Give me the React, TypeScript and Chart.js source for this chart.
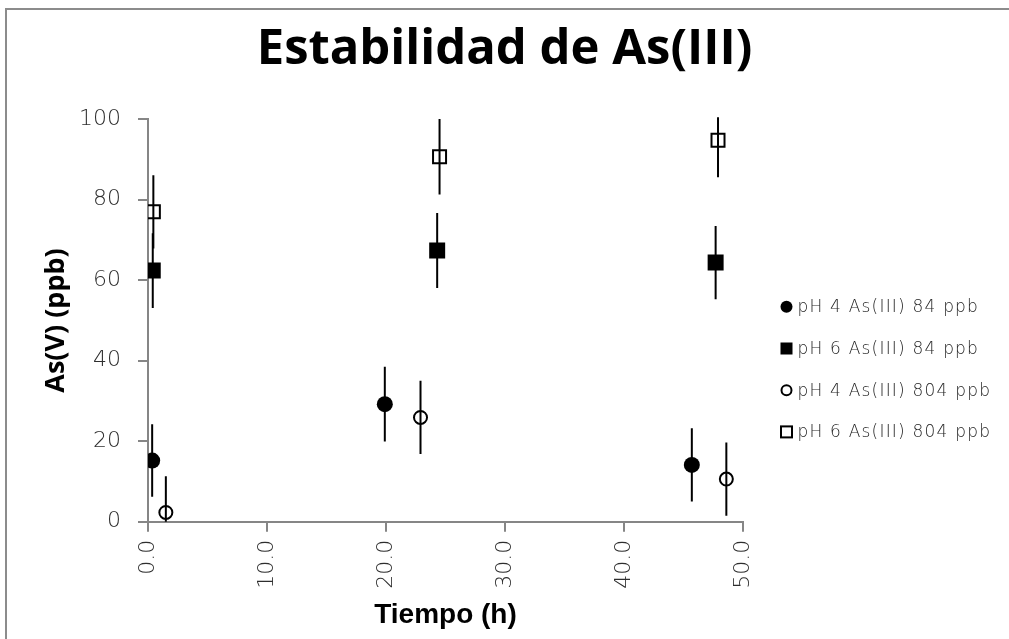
import React, { useEffect, useRef } from "react";
import { Chart, registerables } from "chart.js";

Chart.register(...registerables);

const seriesNames = [
  "pH 4 As(III) 84 ppb",
  "pH 6 As(III) 84 ppb",
  "pH 4 As(III) 804 ppb",
  "pH 6 As(III) 804 ppb",
];

// Tiempo (h)
const s1X = [0.35, 19.9, 45.7];
const s2X = [0.4, 24.3, 47.7];
const s3X = [1.5, 22.9, 48.6];
const s4X = [0.45, 24.5, 47.9];

// As(V) (ppb)
const s1Y = [15.2, 29.2, 14.1];
const s2Y = [62.4, 67.4, 64.4];
const s3Y = [2.3, 25.9, 10.6];
const s4Y = [77.0, 90.7, 94.8];

// error (±)
const s1Err = [9.0, 9.3, 9.1];
const s2Err = [9.3, 9.3, 9.1];
const s3Err = [9.0, 9.1, 9.1];
const s4Err = [9.1, 9.4, 9.2];

const xTicks = [0, 10, 20, 30, 40, 50];
const yTicks = [0, 20, 40, 60, 80, 100];

const TEXT_GREY = "#2e2e2e";
const AXIS_GREY = "#868686";
const LIGHT_FONT = "'DejaVu Sans'";

const toPoints = (xs: number[], ys: number[]) => xs.map((x, i) => ({ x, y: ys[i] }));

const errorBarPlugin = {
  id: "errorBars",
  beforeDatasetsDraw(chart: any) {
    const { ctx, chartArea, scales } = chart;
    ctx.save();
    ctx.beginPath();
    ctx.rect(chartArea.left, chartArea.top - 2, chartArea.right - chartArea.left, chartArea.bottom - chartArea.top + 2);
    ctx.clip();
    ctx.strokeStyle = "#000";
    ctx.lineWidth = 2;
    chart.data.datasets.forEach((ds: any) => {
      ds.data.forEach((p: any, i: number) => {
        const e = ds.errors[i];
        const px = scales.x.getPixelForValue(p.x);
        const top = scales.y.getPixelForValue(p.y + e);
        const bot = scales.y.getPixelForValue(p.y - e);
        ctx.beginPath();
        ctx.moveTo(px, top);
        ctx.lineTo(px, bot);
        ctx.stroke();
      });
    });
    ctx.restore();
  },
};

const legendPlugin = {
  id: "customLegend",
  afterDraw(chart: any) {
    const { ctx, chartArea } = chart;
    ctx.save();
    const mx = chartArea.right + 43.5;
    const y0 = chartArea.top + 187.5;
    const step = 41.7;
    chart.data.datasets.forEach((ds: any, i: number) => {
      const y = y0 + i * step;
      ctx.fillStyle = "#000";
      ctx.strokeStyle = "#000";
      ctx.lineWidth = 2;
      const filled = ds.pointBackgroundColor !== "rgba(0,0,0,0)";
      if (ds.pointStyle === "circle") {
        ctx.beginPath();
        ctx.arc(mx, y, filled ? 6 : 5, 0, Math.PI * 2);
        if (filled) ctx.fill();
        else ctx.stroke();
      } else {
        if (filled) ctx.fillRect(mx - 6, y - 6, 12, 12);
        else ctx.strokeRect(mx - 5.5, y - 5.5, 11, 11);
      }
      ctx.fillStyle = "#262626";
      ctx.font = `200 17px ${LIGHT_FONT}`;
      (ctx as any).letterSpacing = "1.2px";
      ctx.textAlign = "left";
      ctx.textBaseline = "middle";
      ctx.fillText(ds.label, mx + 11, y + 1);
      (ctx as any).letterSpacing = "0px";
    });
    ctx.restore();
  },
};

export default function App() {
  const ref = useRef<HTMLCanvasElement | null>(null);

  useEffect(() => {
    if (!ref.current) return;
    const mk = (label: string, xs: number[], ys: number[], errs: number[], style: string, filled: boolean) => {
      const isRect = style === "rect";
      return {
        label,
        data: toPoints(xs, ys),
        errors: errs,
        pointStyle: style,
        pointRadius: isRect ? (filled ? 11.3 : 9.2) : filled ? 8 : 6.5,
        pointBorderWidth: filled ? 0 : 2,
        pointBackgroundColor: filled ? "#000" : "rgba(0,0,0,0)",
        pointBorderColor: "#000",
        backgroundColor: filled ? "#000" : "rgba(0,0,0,0)",
        borderColor: "#000",
        showLine: false,
      };
    };
    const chart = new Chart(ref.current, {
      type: "scatter",
      data: {
        datasets: [
          mk(seriesNames[0], s1X, s1Y, s1Err, "circle", true),
          mk(seriesNames[1], s2X, s2Y, s2Err, "rect", true),
          mk(seriesNames[2], s3X, s3Y, s3Err, "circle", false),
          mk(seriesNames[3], s4X, s4Y, s4Err, "rect", false),
        ] as any,
      },
      options: {
        animation: false,
        responsive: false,
        layout: { padding: 0 },
        plugins: {
          legend: { display: false },
          tooltip: { enabled: false },
          title: {
            display: true,
            text: "Estabilidad de As(III)",
            color: "#000",
            font: { family: "'Open Sans'", size: 49, weight: "bold", lineHeight: 1.2 },
            padding: { top: 21, bottom: 39.5 },
          },
        },
        scales: {
          x: {
            type: "linear",
            min: xTicks[0],
            max: xTicks[xTicks.length - 1],
            afterFit: (s: any) => {
              s.height = 117.3;
            },
            afterBuildTicks: (s: any) => {
              s.ticks = xTicks.map((v) => ({ value: v }));
            },
            ticks: {
              minRotation: 90,
              maxRotation: 90,
              padding: 8,
              color: TEXT_GREY,
              font: { family: LIGHT_FONT, size: 22, weight: "200" },
              callback: (v: any) => Number(v).toFixed(1),
            },
            grid: {
              drawOnChartArea: false,
              drawTicks: true,
              tickLength: 10,
              color: AXIS_GREY,
              lineWidth: 2,
            },
            border: { display: true, color: AXIS_GREY, width: 2 },
            title: {
              display: true,
              text: "Tiempo (h)",
              color: "#000",
              font: { family: "'Liberation Sans'", size: 28, weight: "bold", lineHeight: 1.2 },
              padding: { top: 0, bottom: 7.2 },
            },
          },
          y: {
            type: "linear",
            min: yTicks[0],
            max: yTicks[yTicks.length - 1],
            afterFit: (s: any) => {
              s.width = 148;
            },
            afterBuildTicks: (s: any) => {
              s.ticks = yTicks.map((v) => ({ value: v }));
            },
            ticks: {
              padding: 17,
              color: TEXT_GREY,
              font: { family: LIGHT_FONT, size: 22, weight: "200" },
            },
            grid: {
              drawOnChartArea: false,
              drawTicks: true,
              tickLength: 10,
              color: AXIS_GREY,
              lineWidth: 2,
            },
            border: { display: true, color: AXIS_GREY, width: 2 },
            title: {
              display: true,
              text: "As(V) (ppb)",
              color: "#000",
              font: { family: "'Open Sans'", size: 27, weight: "bold", lineHeight: 1.2 },
              padding: { top: 40, bottom: 0 },
            },
          },
          legendSpace: {
            type: "linear",
            position: "right",
            display: true,
            afterFit: (s: any) => {
              s.width = 266;
            },
            ticks: { display: false },
            grid: { display: false, drawTicks: false },
            border: { display: false },
          },
        },
      } as any,
      plugins: [errorBarPlugin, legendPlugin],
    });
    return () => chart.destroy();
  }, []);

  return (
    <div style={{ position: "absolute", left: 0, top: 0, width: 1009, height: 639, overflow: "hidden", background: "#fff" }}>
      <div
        style={{
          position: "absolute",
          left: 5,
          top: 8,
          width: 1100,
          height: 800,
          border: "2px solid #8c8c8c",
          boxSizing: "border-box",
        }}
      />
      <canvas ref={ref} width={1009} height={639} style={{ position: "absolute", left: 0, top: 0 }} />
    </div>
  );
}
